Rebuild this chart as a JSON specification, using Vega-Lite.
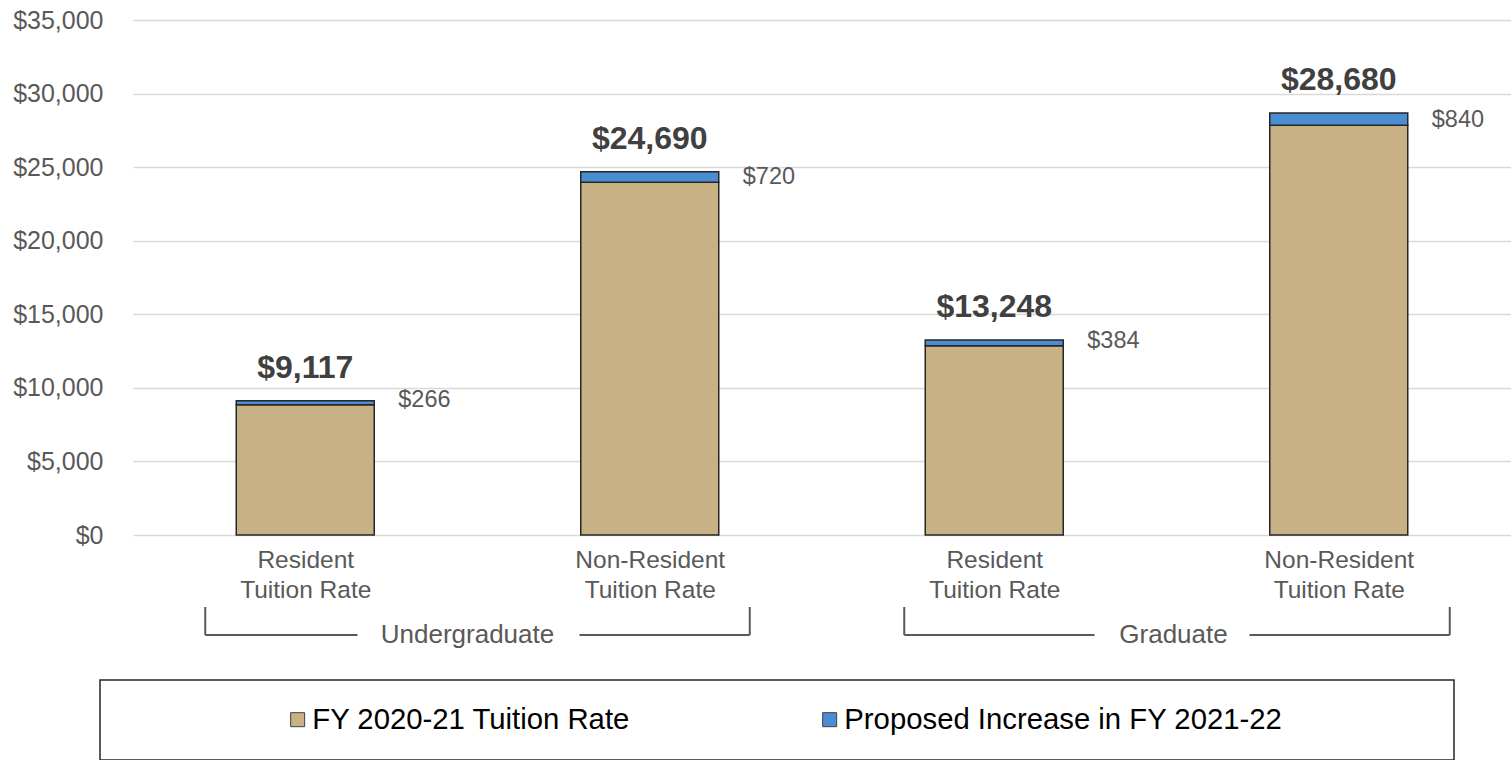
{
  "$schema": "https://vega.github.io/schema/vega-lite/v6.json",
  "width": 1378,
  "height": 515,
  "autosize": "none",
  "padding": {"left": 133, "top": 20, "right": 0, "bottom": 225},
  "background": "white",
  "config": {
    "font": "Liberation Sans",
    "view": {"stroke": null},
    "axisY": {"grid": true, "gridColor": "#D9D9D9", "gridWidth": 1.5, "domain": false, "ticks": false, "labelFontSize": 25, "labelColor": "#595959", "labelPadding": 30},
    "axisX": {"grid": false, "domain": false, "ticks": false, "labelFontSize": 24.5, "labelColor": "#595959", "labelPadding": 13, "labelLineHeight": 30},
    "legend": {"strokeWidth": 1.5}
  },
  "datasets": {
    "bars": [
      {"id": 1, "level": "Undergraduate", "residency": "Resident", "series": "FY 2020-21 Tuition Rate", "value": 8851},
      {"id": 1, "level": "Undergraduate", "residency": "Resident", "series": "Proposed Increase in FY 2021-22", "value": 266},
      {"id": 2, "level": "Undergraduate", "residency": "Non-Resident", "series": "FY 2020-21 Tuition Rate", "value": 23970},
      {"id": 2, "level": "Undergraduate", "residency": "Non-Resident", "series": "Proposed Increase in FY 2021-22", "value": 720},
      {"id": 3, "level": "Graduate", "residency": "Resident", "series": "FY 2020-21 Tuition Rate", "value": 12864},
      {"id": 3, "level": "Graduate", "residency": "Resident", "series": "Proposed Increase in FY 2021-22", "value": 384},
      {"id": 4, "level": "Graduate", "residency": "Non-Resident", "series": "FY 2020-21 Tuition Rate", "value": 27840},
      {"id": 4, "level": "Graduate", "residency": "Non-Resident", "series": "Proposed Increase in FY 2021-22", "value": 840}
    ],
    "totals": [
      {"id": 1, "current": 8851, "total": 9117, "increase": 266},
      {"id": 2, "current": 23970, "total": 24690, "increase": 720},
      {"id": 3, "current": 12864, "total": 13248, "increase": 384},
      {"id": 4, "current": 27840, "total": 28680, "increase": 840}
    ],
    "groups": [
      {"group": "Undergraduate", "start": 1, "end": 2, "mid": 1.5},
      {"group": "Graduate", "start": 3, "end": 4, "mid": 3.5}
    ]
  },
  "layer": [
    {
      "data": {"name": "bars"},
      "mark": {"type": "bar", "width": 138, "stroke": "#262626", "strokeWidth": 1.5},
      "encoding": {
        "x": {"field": "id", "type": "quantitative", "title": null,
              "scale": {"domain": [0.5, 4.5], "nice": false, "zero": false, "padding": 0},
              "axis": {"values": [1, 2, 3, 4], "labelExpr": "datum.value == 1 || datum.value == 3 ? ['Resident', 'Tuition Rate'] : ['Non-Resident', 'Tuition Rate']"}},
        "y": {"field": "value", "type": "quantitative", "title": null, "stack": "zero",
              "scale": {"domain": [0, 35000], "nice": false, "zero": false},
              "axis": {"values": [0, 5000, 10000, 15000, 20000, 25000, 30000, 35000], "format": "$,.0f"}},
        "color": {"field": "series", "type": "nominal",
                  "scale": {"domain": ["FY 2020-21 Tuition Rate", "Proposed Increase in FY 2021-22"], "range": ["#C8B185", "#4A8DD0"]},
                  "legend": {"orient": "none", "legendX": -33, "legendY": 660, "direction": "horizontal", "title": null,
                             "padding": 25, "fillColor": "white", "strokeColor": "#262626",
                             "symbolType": "square", "symbolSize": 196, "symbolStrokeColor": "#404040", "symbolStrokeWidth": 1, "symbolOpacity": 1,
                             "symbolOffset": 158, "labelOffset": 0, "labelFontSize": 29.3, "labelColor": "black", "columnPadding": 26, "labelLimit": 1000,
                             "labelExpr": "datum.label == 'Proposed Increase in FY 2021-22' ? datum.label + '\u00a0\u00a0\u00a0\u00a0\u00a0\u00a0\u00a0\u00a0\u00a0\u00a0\u00a0\u00a0\u00a0\u00a0\u00a0\u00a0\u00a0\u00a0\u200b' : datum.label"}},
        "order": {"field": "series", "sort": "ascending"}
      }
    },
    {
      "data": {"name": "totals"},
      "mark": {"type": "text", "fontSize": 32, "fontWeight": "bold", "color": "#404040", "baseline": "alphabetic", "dy": -23},
      "encoding": {
        "x": {"field": "id", "type": "quantitative", "title": null},
        "y": {"field": "total", "type": "quantitative", "title": null},
        "text": {"field": "total", "type": "quantitative", "format": "$,.0f"}
      }
    },
    {
      "data": {"name": "totals"},
      "mark": {"type": "text", "fontSize": 23.5, "color": "#595959", "align": "left", "baseline": "middle", "dx": 93, "dy": -5},
      "encoding": {
        "x": {"field": "id", "type": "quantitative", "title": null},
        "y": {"field": "current", "type": "quantitative", "title": null},
        "text": {"field": "increase", "type": "quantitative", "format": "$,.0f"}
      }
    },
    {
      "data": {"name": "groups"},
      "transform": [{"filter": "datum.group == 'Undergraduate'"}],
      "mark": {"type": "rule", "color": "#595959", "strokeWidth": 2, "xOffset": -100},
      "encoding": {
        "x": {"field": "start", "type": "quantitative", "title": null},
        "y": {"datum": -4893, "type": "quantitative"},
        "y2": {"datum": -6796}
      }
    },
    {
      "data": {"name": "groups"},
      "transform": [{"filter": "datum.group == 'Undergraduate'"}],
      "mark": {"type": "rule", "color": "#595959", "strokeWidth": 2, "xOffset": 100},
      "encoding": {
        "x": {"field": "end", "type": "quantitative", "title": null},
        "y": {"datum": -4893, "type": "quantitative"},
        "y2": {"datum": -6796}
      }
    },
    {
      "data": {"name": "groups"},
      "transform": [{"filter": "datum.group == 'Graduate'"}],
      "mark": {"type": "rule", "color": "#595959", "strokeWidth": 2, "xOffset": -90},
      "encoding": {
        "x": {"field": "start", "type": "quantitative", "title": null},
        "y": {"datum": -4893, "type": "quantitative"},
        "y2": {"datum": -6796}
      }
    },
    {
      "data": {"name": "groups"},
      "transform": [{"filter": "datum.group == 'Graduate'"}],
      "mark": {"type": "rule", "color": "#595959", "strokeWidth": 2, "xOffset": 111},
      "encoding": {
        "x": {"field": "end", "type": "quantitative", "title": null},
        "y": {"datum": -4893, "type": "quantitative"},
        "y2": {"datum": -6796}
      }
    },
    {
      "data": {"name": "groups"},
      "transform": [{"filter": "datum.group == 'Undergraduate'"}],
      "mark": {"type": "rule", "color": "#595959", "strokeWidth": 2, "xOffset": -100, "x2Offset": -120},
      "encoding": {
        "x": {"field": "start", "type": "quantitative", "title": null},
        "x2": {"field": "mid"},
        "y": {"datum": -6796, "type": "quantitative"}
      }
    },
    {
      "data": {"name": "groups"},
      "transform": [{"filter": "datum.group == 'Undergraduate'"}],
      "mark": {"type": "rule", "color": "#595959", "strokeWidth": 2, "xOffset": 102, "x2Offset": 100},
      "encoding": {
        "x": {"field": "mid", "type": "quantitative", "title": null},
        "x2": {"field": "end"},
        "y": {"datum": -6796, "type": "quantitative"}
      }
    },
    {
      "data": {"name": "groups"},
      "transform": [{"filter": "datum.group == 'Graduate'"}],
      "mark": {"type": "rule", "color": "#595959", "strokeWidth": 2, "xOffset": -90, "x2Offset": -72},
      "encoding": {
        "x": {"field": "start", "type": "quantitative", "title": null},
        "x2": {"field": "mid"},
        "y": {"datum": -6796, "type": "quantitative"}
      }
    },
    {
      "data": {"name": "groups"},
      "transform": [{"filter": "datum.group == 'Graduate'"}],
      "mark": {"type": "rule", "color": "#595959", "strokeWidth": 2, "xOffset": 83, "x2Offset": 111},
      "encoding": {
        "x": {"field": "mid", "type": "quantitative", "title": null},
        "x2": {"field": "end"},
        "y": {"datum": -6796, "type": "quantitative"}
      }
    },
    {
      "data": {"name": "groups"},
      "transform": [{"filter": "datum.group == 'Undergraduate'"}],
      "mark": {"type": "text", "fontSize": 26, "color": "#595959", "baseline": "middle", "dx": -10},
      "encoding": {
        "x": {"field": "mid", "type": "quantitative", "title": null},
        "y": {"datum": -6796, "type": "quantitative"},
        "text": {"field": "group", "type": "nominal"}
      }
    },
    {
      "data": {"name": "groups"},
      "transform": [{"filter": "datum.group == 'Graduate'"}],
      "mark": {"type": "text", "fontSize": 26, "color": "#595959", "baseline": "middle", "dx": 7},
      "encoding": {
        "x": {"field": "mid", "type": "quantitative", "title": null},
        "y": {"datum": -6796, "type": "quantitative"},
        "text": {"field": "group", "type": "nominal"}
      }
    }
  ]
}
